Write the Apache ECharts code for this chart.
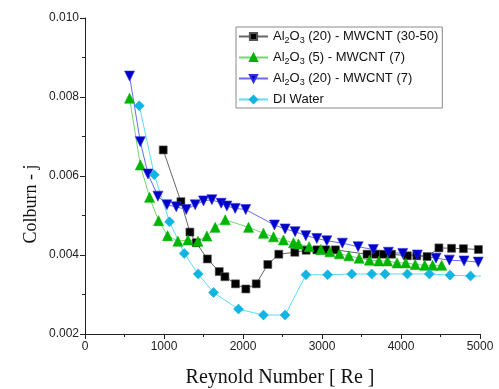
<!DOCTYPE html>
<html><head><meta charset="utf-8">
<script src="https://cdn.jsdelivr.net/npm/echarts@6/dist/echarts.min.js"></script>
<style>html,body{margin:0;padding:0;background:#fff}#c{width:499px;height:389px}</style>
</head><body><div id="c"></div>
<script>
const xTicks = [0, 1000, 2000, 3000, 4000, 5000];
const yTicks = [0.002, 0.004, 0.006, 0.008, 0.010];

const names = ['Al₂O₃ (20) - MWCNT (30-50)', 'Al₂O₃ (5) - MWCNT (7)', 'Al₂O₃ (20) - MWCNT (7)', 'DI Water'];

const reBlack = [990,1214,1328,1408,1549,1699,1771,1905,2036,2167,2314,2453,2656,2799,2935,3050,3170,3570,3680,3780,3880,4080,4200,4330,4480,4640,4790,4980];
const jBlack = [0.00666,0.00535,0.00458,0.00431,0.00390,0.00358,0.00345,0.00327,0.00314,0.00327,0.00376,0.00402,0.00407,0.00412,0.00413,0.00413,0.00413,0.00402,0.00402,0.00402,0.00402,0.00398,0.00398,0.00396,0.00418,0.00417,0.00416,0.00414];

const reGreen = [564,700,817,931,1045,1176,1303,1429,1543,1648,1775,2070,2259,2386,2512,2639,2702,2837,2985,3100,3220,3340,3470,3600,3720,3830,3950,4060,4180,4300,4400,4515];
const jGreen = [0.00797,0.00628,0.00546,0.00487,0.00449,0.00435,0.00438,0.00435,0.00448,0.00470,0.00489,0.00470,0.00455,0.00446,0.00438,0.00431,0.00428,0.00421,0.00414,0.00408,0.00403,0.00398,0.00392,0.00387,0.00385,0.00385,0.00380,0.00380,0.00376,0.00374,0.00374,0.00374];

const reBlue = [564,700,797,923,1037,1155,1281,1395,1500,1606,1724,1796,1901,2034,2398,2533,2660,2795,2934,3061,3258,3457,3650,3840,4022,4207,4443,4612,4798,4978];
const jBlue = [0.00853,0.00687,0.00605,0.00549,0.00527,0.00522,0.00515,0.00527,0.00537,0.00540,0.00531,0.00524,0.00518,0.00515,0.00476,0.00466,0.00459,0.00449,0.00442,0.00436,0.00430,0.00421,0.00414,0.00407,0.00404,0.00400,0.00392,0.00387,0.00385,0.00382];

const reWater = [687,877,1070,1256,1433,1627,1943,2259,2533,2797,3071,3377,3630,3798,4081,4359,4621,4880,5100];
const jWater = [0.00778,0.00603,0.00484,0.00404,0.00352,0.00305,0.00263,0.00248,0.00248,0.00350,0.00350,0.00352,0.00352,0.00352,0.00352,0.00352,0.00349,0.00347,0.00346];

const zip = (a, b) => a.map((v, i) => [v, b[i]]);
const chart = echarts.init(document.getElementById('c'), null, {renderer: 'canvas'});

function mk(name, xs, ys, symbol, size, mColor, lColor, rot, bColor) {
  return {
    name, type: 'line', data: zip(xs, ys), symbol, symbolSize: size, symbolRotate: rot || 0,
    showAllSymbol: true, clip: true,
    itemStyle: {color: mColor, borderColor: bColor || mColor, borderWidth: 0.6},
    lineStyle: {color: lColor, width: 1},
    emphasis: {disabled: true}, animation: false
  };
}

chart.setOption({
  animation: false,
  backgroundColor: '#fff',
  grid: {left: 85, right: 19, top: 18, bottom: 55, containLabel: false},
  legend: {
    orient: 'vertical', left: 236, top: 27,
    padding: [3, 4, 2, 2], itemGap: 6, itemWidth: 29, itemHeight: 9,
    borderColor: '#8a8a8a', borderWidth: 1, backgroundColor: '#fff',
    data: names,
    textStyle: {fontFamily: 'Liberation Sans, Arial', fontSize: 13, color: '#111',
      rich: {s: {fontFamily: 'Liberation Sans, Arial', fontSize: 9, color: '#111', padding: [8, 0, 0, 0]}}},
    formatter: n => n.replace(/₂/g, '{s|2}').replace(/₃/g, '{s|3}')
  },
  xAxis: {
    type: 'value', min: xTicks[0], max: xTicks[xTicks.length - 1], interval: 1000,
    axisLine: {show: true, onZero: false, lineStyle: {color: '#222', width: 1}},
    axisTick: {show: true, inside: false, length: 5, lineStyle: {color: '#222'}},
    minorTick: {show: true, splitNumber: 2, length: 3, lineStyle: {color: '#222'}},
    splitLine: {show: false},
    axisLabel: {fontFamily: 'Liberation Sans, Arial', fontSize: 12, color: '#222', margin: 7,
      formatter: v => String(v)}
  },
  yAxis: {
    type: 'value', min: yTicks[0], max: yTicks[yTicks.length - 1], interval: 0.002,
    axisLine: {show: true, onZero: false, lineStyle: {color: '#222', width: 1}},
    axisTick: {show: true, inside: false, length: 5, lineStyle: {color: '#222'}},
    minorTick: {show: true, splitNumber: 2, length: 3, lineStyle: {color: '#222'}},
    splitLine: {show: false},
    axisLabel: {fontFamily: 'Liberation Sans, Arial', fontSize: 12, color: '#222', margin: 6,
      formatter: v => v.toFixed(3)}
  },
  graphic: [
    {type: 'text', x: 31, y: 204, rotation: Math.PI / 2,
      style: {text: 'Colburn - j', font: '18px "Liberation Serif", "Times New Roman", serif', fill: '#111', textAlign: 'center', textVerticalAlign: 'middle'}},
    {type: 'text', x: 280, y: 378,
      style: {text: 'Reynold Number [ Re ]', font: '20px "Liberation Serif", "Times New Roman", serif', fill: '#111', textAlign: 'center', textVerticalAlign: 'middle'}}
  ],
  series: [
    mk(names[0], reBlack, jBlack, 'rect', 8, '#000000', '#666666', 0, '#555'),
    mk(names[1], reGreen, jGreen, 'triangle', 10, '#00b400', '#70d870'),
    mk(names[2], reBlue, jBlue, 'triangle', 10, '#0000c8', '#6a6af0', 180, '#3030e0'),
    mk(names[3], reWater, jWater, 'diamond', 10, '#12b4e2', '#5cdcf8')
  ]
});
</script></body></html>
